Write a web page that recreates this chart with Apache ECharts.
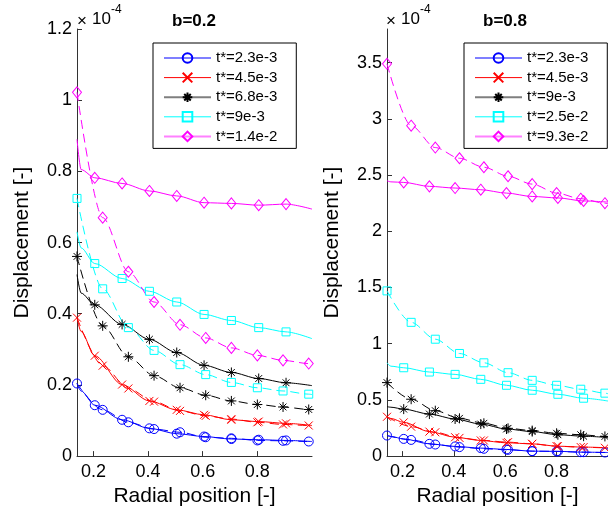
<!DOCTYPE html>
<html>
<head>
<meta charset="utf-8">
<script src="https://cdn.jsdelivr.net/npm/echarts@6/dist/echarts.min.js"></script>
<style>
html,body{margin:0;padding:0;background:#fff;}
#chart{width:608px;height:512px;}
</style>
</head>
<body>
<div id="chart"></div>
<script>
// ---- data (displacement values in units of 1e-4) ----
const xSolid  = [0.14, 0.155, 0.205, 0.305, 0.405, 0.505, 0.605, 0.705, 0.805, 0.905, 1.0];
const solidMarked = [false, false, true, true, true, true, true, true, true, true, false];
const xDashed = [0.14, 0.234, 0.328, 0.422, 0.517, 0.611, 0.705, 0.8, 0.894, 0.988, 1.0];
const dashedMarked = [true, true, true, true, true, true, true, true, true, true, false];

const xTicks = [0.2, 0.4, 0.6, 0.8];
const yTicksLeft = [0, 0.2, 0.4, 0.6, 0.8, 1, 1.2];
const yTicksRight = [0, 0.5, 1, 1.5, 2, 2.5, 3, 3.5];

const namesLeft  = ['t*=2.3e-3', 't*=4.5e-3', 't*=6.8e-3', 't*=9e-3', 't*=1.4e-2'];
const namesRight = ['t*=2.3e-3', 't*=4.5e-3', 't*=9e-3', 't*=2.5e-2', 't*=9.3e-2'];

// b=0.2 (left)
const L_blue_solid    = [0.204, 0.183, 0.143, 0.102, 0.078, 0.063, 0.055, 0.048, 0.046, 0.044, 0.041];
const L_red_solid     = [0.389, 0.350, 0.282, 0.201, 0.155, 0.130, 0.116, 0.102, 0.097, 0.092, 0.086];
const L_black_solid   = [0.510, 0.458, 0.425, 0.370, 0.328, 0.291, 0.255, 0.235, 0.218, 0.206, 0.198];
const L_cyan_solid    = [0.630, 0.585, 0.541, 0.499, 0.463, 0.433, 0.398, 0.381, 0.361, 0.349, 0.330];
const L_magenta_solid = [0.890, 0.805, 0.782, 0.766, 0.745, 0.731, 0.712, 0.710, 0.705, 0.708, 0.694];

const L_blue_dash    = [0.204, 0.130, 0.095, 0.076, 0.067, 0.053, 0.050, 0.044, 0.043, 0.041, 0.041];
const L_red_dash     = [0.389, 0.254, 0.190, 0.153, 0.127, 0.113, 0.104, 0.095, 0.089, 0.086, 0.085];
const L_black_dash   = [0.561, 0.366, 0.279, 0.226, 0.192, 0.171, 0.155, 0.145, 0.138, 0.131, 0.130];
const L_cyan_dash    = [0.724, 0.470, 0.361, 0.297, 0.257, 0.229, 0.207, 0.192, 0.183, 0.174, 0.173];
const L_magenta_dash = [1.022, 0.670, 0.518, 0.433, 0.369, 0.332, 0.304, 0.283, 0.269, 0.260, 0.258];

// b=0.8 (right)
const R_blue_solid    = [0.183, 0.175, 0.153, 0.109, 0.086, 0.071, 0.059, 0.044, 0.042, 0.035, 0.032];
const R_red_solid     = [0.350, 0.335, 0.300, 0.218, 0.168, 0.139, 0.118, 0.109, 0.088, 0.080, 0.074];
const R_black_solid   = [0.440, 0.435, 0.418, 0.374, 0.330, 0.285, 0.241, 0.218, 0.190, 0.177, 0.165];
const R_cyan_solid    = [0.830, 0.800, 0.786, 0.748, 0.727, 0.683, 0.630, 0.586, 0.550, 0.515, 0.490];
const R_magenta_solid = [2.450, 2.440, 2.435, 2.400, 2.385, 2.370, 2.340, 2.310, 2.297, 2.270, 2.260];

const R_blue_dash    = [0.183, 0.144, 0.103, 0.080, 0.065, 0.056, 0.044, 0.042, 0.035, 0.032, 0.032];
const R_red_dash     = [0.350, 0.262, 0.212, 0.162, 0.139, 0.124, 0.109, 0.088, 0.080, 0.074, 0.073];
const R_black_dash   = [0.654, 0.506, 0.404, 0.336, 0.292, 0.247, 0.227, 0.203, 0.190, 0.175, 0.173];
const R_cyan_dash    = [1.470, 1.190, 1.040, 0.913, 0.830, 0.742, 0.674, 0.630, 0.595, 0.560, 0.555];
const R_magenta_dash = [3.490, 2.940, 2.745, 2.650, 2.570, 2.490, 2.420, 2.340, 2.290, 2.250, 2.245];

// ---- styling ----
const FONT = '"Liberation Sans", Arial, Helvetica, sans-serif';
const colors = ['#0000ff', '#ff0000', '#000000', '#00ffff', '#ff00ff'];
const legendLineColors = ['#7f7fff', '#ff0000', '#7f7f7f', '#00ffff', '#ff80ff'];
const legendLineWidths = [2, 1, 2, 1, 2];
const SYM_X = 'path://M0,0L10,10M0,10L10,0';
const SYM_AST = 'path://M5,0L5,10M0,5L10,5M1.6,1.6L8.4,8.4M1.6,8.4L8.4,1.6';
const symbolsLeft  = ['circle', SYM_X, SYM_AST, 'rect', 'diamond'];
const symbolSizes  = { circle: 9, rect: 8, diamond: [9, 11] };
symbolSizes[SYM_X] = 8;
symbolSizes[SYM_AST] = 10;

function mk(gridIdx, name, xs, ys, marked, ci, dashed) {
  const sym = symbolsLeft[ci];
  return {
    type: 'line',
    name: name,
    xAxisIndex: gridIdx,
    yAxisIndex: gridIdx,
    symbol: sym,
    symbolSize: symbolSizes[sym],
    showAllSymbol: true,
    smooth: 0.3,
    smoothMonotone: 'x',
    lineStyle: { color: colors[ci], width: 1, type: dashed ? [9, 5] : 'solid' },
    itemStyle: { color: 'rgba(0,0,0,0)', borderColor: colors[ci], borderWidth: 1 },
    emphasis: { disabled: true },
    data: xs.map((x, i) => marked[i] ? { value: [x, ys[i]] } : { value: [x, ys[i]], symbol: 'none' })
  };
}

const series = [
  mk(0, namesLeft[0], xSolid, L_blue_solid, solidMarked, 0, false),
  mk(0, null, xDashed, L_blue_dash, dashedMarked, 0, true),
  mk(0, namesLeft[1], xSolid, L_red_solid, solidMarked, 1, false),
  mk(0, null, xDashed, L_red_dash, dashedMarked, 1, true),
  mk(0, namesLeft[2], xSolid, L_black_solid, solidMarked, 2, false),
  mk(0, null, xDashed, L_black_dash, dashedMarked, 2, true),
  mk(0, namesLeft[3], xSolid, L_cyan_solid, solidMarked, 3, false),
  mk(0, null, xDashed, L_cyan_dash, dashedMarked, 3, true),
  mk(0, namesLeft[4], xSolid, L_magenta_solid, solidMarked, 4, false),
  mk(0, null, xDashed, L_magenta_dash, dashedMarked, 4, true),

  mk(1, 'R|' + namesRight[0], xSolid, R_blue_solid, solidMarked, 0, false),
  mk(1, null, xDashed, R_blue_dash, dashedMarked, 0, true),
  mk(1, 'R|' + namesRight[1], xSolid, R_red_solid, solidMarked, 1, false),
  mk(1, null, xDashed, R_red_dash, dashedMarked, 1, true),
  mk(1, 'R|' + namesRight[2], xSolid, R_black_solid, solidMarked, 2, false),
  mk(1, null, xDashed, R_black_dash, dashedMarked, 2, true),
  mk(1, 'R|' + namesRight[3], xSolid, R_cyan_solid, solidMarked, 3, false),
  mk(1, null, xDashed, R_cyan_dash, dashedMarked, 3, true),
  mk(1, 'R|' + namesRight[4], xSolid, R_magenta_solid, solidMarked, 4, false),
  mk(1, null, xDashed, R_magenta_dash, dashedMarked, 4, true)
];
series.forEach((s, i) => { if (!s.name) s.name = '_dash' + i; });

function xAx(gridIdx) {
  return {
    type: 'value', gridIndex: gridIdx, min: 0.14, max: 1.0,
    name: 'Radial position [-]', nameLocation: 'middle', nameGap: 29,
    nameTextStyle: { fontSize: 21, color: '#000', fontFamily: FONT },
    axisLine: { show: true, onZero: false, lineStyle: { color: '#333', width: 1 } },
    axisTick: { show: true, inside: true, length: 5, customValues: xTicks, lineStyle: { color: '#333' } },
    axisLabel: { customValues: xTicks, fontSize: 18, color: '#000', margin: 7, fontFamily: FONT },
    splitLine: { show: false }
  };
}
function yAx(gridIdx, max, ticks) {
  return {
    type: 'value', gridIndex: gridIdx, min: 0, max: max,
    name: 'Displacement [-]', nameLocation: 'middle', nameGap: 44, nameRotate: 90,
    nameTextStyle: { fontSize: 21, color: '#000', fontFamily: FONT },
    axisLine: { show: true, onZero: false, lineStyle: { color: '#333', width: 1 } },
    axisTick: { show: true, inside: true, length: 5, customValues: ticks, lineStyle: { color: '#333' } },
    axisLabel: { customValues: ticks, fontSize: 18, color: '#000', margin: 5, fontFamily: FONT },
    splitLine: { show: false }
  };
}
function legendCfg(left, names, prefix) {
  return {
    orient: 'vertical', left: left, top: 43,
    padding: [7, 19, 4, 10],
    itemWidth: 47, itemHeight: 12, itemGap: 3.6,
    borderColor: '#000', borderWidth: 1, backgroundColor: '#fff',
    selectedMode: false,
    textStyle: { fontSize: 15, lineHeight: 16, color: '#000', fontFamily: FONT },
    formatter: n => n.replace(/^R\|/, ''),
    data: names.map((n, i) => ({
      name: prefix + n,
      lineStyle: { color: legendLineColors[i], width: legendLineWidths[i], type: 'solid' }
    }))
  };
}

const chart = echarts.init(document.getElementById('chart'), null, { renderer: 'canvas' });
chart.setOption({
  animation: false,
  backgroundColor: '#fff',
  textStyle: { fontFamily: FONT },
  title: [
    { text: 'b=0.2', left: 167, top: 8, textStyle: { fontSize: 17, fontWeight: 'bold', color: '#000', fontFamily: FONT } },
    { text: 'b=0.8', left: 478, top: 8, textStyle: { fontSize: 17, fontWeight: 'bold', color: '#000', fontFamily: FONT } }
  ],
  graphic: [
    { type: 'text', x: 77, y: 21, style: { text: '\u00d7', fontSize: 17, fontFamily: FONT, fill: '#000', textVerticalAlign: 'middle' } },
    { type: 'text', x: 92, y: 19, style: { text: '10', fontSize: 17, fontFamily: FONT, fill: '#000', textVerticalAlign: 'middle' } },
    { type: 'text', x: 111, y: 10, style: { text: '-4', fontSize: 12, fontFamily: FONT, fill: '#000', textVerticalAlign: 'middle' } },
    { type: 'text', x: 386, y: 21, style: { text: '\u00d7', fontSize: 17, fontFamily: FONT, fill: '#000', textVerticalAlign: 'middle' } },
    { type: 'text', x: 401, y: 19, style: { text: '10', fontSize: 17, fontFamily: FONT, fill: '#000', textVerticalAlign: 'middle' } },
    { type: 'text', x: 420, y: 10, style: { text: '-4', fontSize: 12, fontFamily: FONT, fill: '#000', textVerticalAlign: 'middle' } }
  ],
  grid: [
    { left: 77, top: 29, width: 235, height: 429 },
    { left: 387, top: 29, width: 235, height: 430 }
  ],
  xAxis: [xAx(0), xAx(1)],
  yAxis: [yAx(0, 1.2, yTicksLeft), yAx(1, 3.8, yTicksRight)],
  legend: [legendCfg(153, namesLeft, ''), legendCfg(464, namesRight, 'R|')],
  series: series
});
</script>
</body>
</html>
